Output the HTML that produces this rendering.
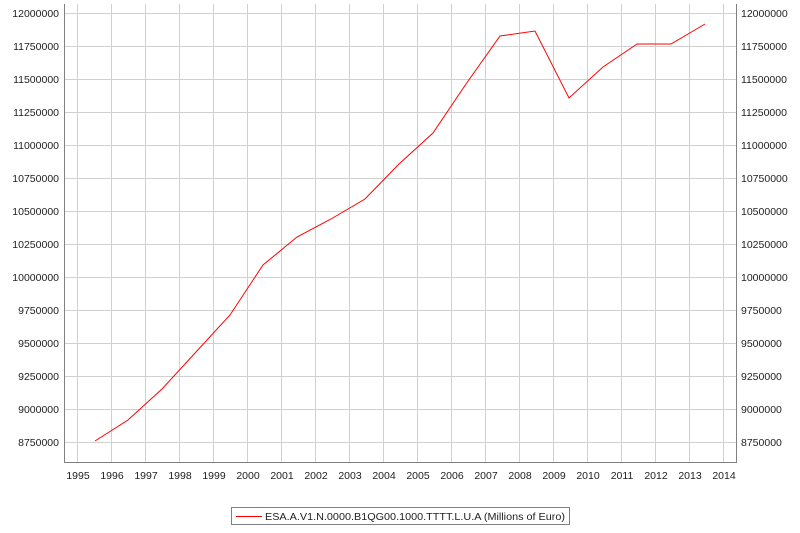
<!DOCTYPE html>
<html><head><style>body{margin:0;background:#fff}</style></head><body>
<svg width="800" height="528" xmlns="http://www.w3.org/2000/svg" font-family="Liberation Sans, sans-serif" font-size="10.5">
<rect width="800" height="528" fill="#fff"/>
<g stroke="#d0d0d0" stroke-width="1">
<line x1="77.5" y1="4" x2="77.5" y2="462"/><line x1="111.5" y1="4" x2="111.5" y2="462"/><line x1="145.5" y1="4" x2="145.5" y2="462"/><line x1="179.5" y1="4" x2="179.5" y2="462"/><line x1="213.5" y1="4" x2="213.5" y2="462"/><line x1="247.5" y1="4" x2="247.5" y2="462"/><line x1="281.5" y1="4" x2="281.5" y2="462"/><line x1="315.5" y1="4" x2="315.5" y2="462"/><line x1="349.5" y1="4" x2="349.5" y2="462"/><line x1="383.5" y1="4" x2="383.5" y2="462"/><line x1="417.5" y1="4" x2="417.5" y2="462"/><line x1="451.5" y1="4" x2="451.5" y2="462"/><line x1="485.5" y1="4" x2="485.5" y2="462"/><line x1="519.5" y1="4" x2="519.5" y2="462"/><line x1="553.5" y1="4" x2="553.5" y2="462"/><line x1="587.5" y1="4" x2="587.5" y2="462"/><line x1="621.5" y1="4" x2="621.5" y2="462"/><line x1="655.5" y1="4" x2="655.5" y2="462"/><line x1="689.5" y1="4" x2="689.5" y2="462"/><line x1="723.5" y1="4" x2="723.5" y2="462"/>
<line x1="64" y1="13.5" x2="737" y2="13.5"/><line x1="64" y1="46.5" x2="737" y2="46.5"/><line x1="64" y1="79.5" x2="737" y2="79.5"/><line x1="64" y1="112.5" x2="737" y2="112.5"/><line x1="64" y1="145.5" x2="737" y2="145.5"/><line x1="64" y1="178.5" x2="737" y2="178.5"/><line x1="64" y1="211.5" x2="737" y2="211.5"/><line x1="64" y1="244.5" x2="737" y2="244.5"/><line x1="64" y1="277.5" x2="737" y2="277.5"/><line x1="64" y1="310.5" x2="737" y2="310.5"/><line x1="64" y1="343.5" x2="737" y2="343.5"/><line x1="64" y1="376.5" x2="737" y2="376.5"/><line x1="64" y1="409.5" x2="737" y2="409.5"/><line x1="64" y1="442.5" x2="737" y2="442.5"/>
</g>
<g stroke="#808080" fill="none"><polyline points="64.5,4 64.5,462.5 737,462.5"/><line x1="736.5" y1="4" x2="736.5" y2="462"/></g>
<polyline fill="none" stroke="#ff0000" stroke-width="1" points="95,441 128,420 162,389 196,352 230,315 263,265 297,237 331,219 365,199 399,164 433,133 466,84 500,36 535,31 569,98 603,67 637,44 671,44 705,24"/>
<g text-anchor="end" fill="#222">
<text x="59" y="17">12000000</text><text x="59" y="50">11750000</text><text x="59" y="83">11500000</text><text x="59" y="116">11250000</text><text x="59" y="149">11000000</text><text x="59" y="182">10750000</text><text x="59" y="215">10500000</text><text x="59" y="248">10250000</text><text x="59" y="281">10000000</text><text x="59" y="314">9750000</text><text x="59" y="347">9500000</text><text x="59" y="380">9250000</text><text x="59" y="413">9000000</text><text x="59" y="446">8750000</text>
</g>
<g fill="#222">
<text x="741" y="17">12000000</text><text x="741" y="50">11750000</text><text x="741" y="83">11500000</text><text x="741" y="116">11250000</text><text x="741" y="149">11000000</text><text x="741" y="182">10750000</text><text x="741" y="215">10500000</text><text x="741" y="248">10250000</text><text x="741" y="281">10000000</text><text x="741" y="314">9750000</text><text x="741" y="347">9500000</text><text x="741" y="380">9250000</text><text x="741" y="413">9000000</text><text x="741" y="446">8750000</text>
</g>
<g text-anchor="middle" fill="#222">
<text x="78" y="479">1995</text><text x="112" y="479">1996</text><text x="146" y="479">1997</text><text x="180" y="479">1998</text><text x="214" y="479">1999</text><text x="248" y="479">2000</text><text x="282" y="479">2001</text><text x="316" y="479">2002</text><text x="350" y="479">2003</text><text x="384" y="479">2004</text><text x="418" y="479">2005</text><text x="452" y="479">2006</text><text x="486" y="479">2007</text><text x="520" y="479">2008</text><text x="554" y="479">2009</text><text x="588" y="479">2010</text><text x="622" y="479">2011</text><text x="656" y="479">2012</text><text x="690" y="479">2013</text><text x="724" y="479">2014</text>
</g>
<rect x="231.5" y="507.5" width="338" height="17" fill="#fff" stroke="#808080"/>
<line x1="236" y1="516.5" x2="262" y2="516.5" stroke="#ff0000"/>
<text x="265" y="520" fill="#222" textLength="300" lengthAdjust="spacingAndGlyphs">ESA.A.V1.N.0000.B1QG00.1000.TTTT.L.U.A (Millions of Euro)</text>
</svg>
</body></html>
